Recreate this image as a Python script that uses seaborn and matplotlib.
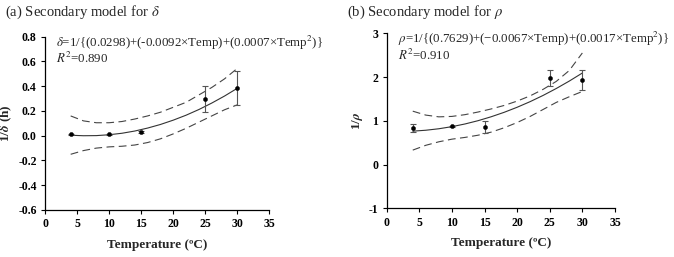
import numpy as np
import pandas as pd
import matplotlib
matplotlib.use("Agg")
import matplotlib.pyplot as plt
import seaborn as sns

# ---- data ----
temps = [4, 10, 15, 25, 30]
delta_obs = [0.013, 0.013, 0.03, 0.295, 0.387]
delta_err = [0.005, 0.005, 0.01, 0.105, 0.14]
rho_obs = [0.84, 0.87, 0.86, 1.97, 1.93]
rho_err = [0.09, 0.02, 0.14, 0.18, 0.23]

curve_t = [4, 6, 8, 10, 12, 14, 16, 18, 20, 22, 24, 26, 28, 30]
delta_fit = [0.004, 0.000, 0.001, 0.008, 0.020, 0.038, 0.062, 0.091, 0.126, 0.166, 0.212, 0.264, 0.321, 0.384]
delta_up = [0.16, 0.12, 0.105, 0.105, 0.115, 0.135, 0.16, 0.19, 0.23, 0.27, 0.33, 0.39, 0.46, 0.545]
delta_lo = [-0.15, -0.12, -0.10, -0.09, -0.085, -0.075, -0.055, -0.025, 0.015, 0.06, 0.11, 0.16, 0.21, 0.25]
rho_fit = [0.763, 0.784, 0.818, 0.866, 0.927, 1.002, 1.091, 1.193, 1.309, 1.438, 1.581, 1.738, 1.908, 2.092]
rho_up = [1.22, 1.13, 1.09, 1.10, 1.14, 1.20, 1.27, 1.35, 1.45, 1.57, 1.72, 1.90, 2.15, 2.55]
rho_lo = [0.33, 0.44, 0.52, 0.58, 0.62, 0.67, 0.74, 0.84, 0.96, 1.10, 1.26, 1.42, 1.55, 1.67]

x_ticks = [0, 5, 10, 15, 20, 25, 30, 35]
delta_yticks = [-0.6, -0.4, -0.2, 0.0, 0.2, 0.4, 0.6, 0.8]
rho_yticks = [-1, 0, 1, 2, 3]

titles = ["(a) Secondary model for $\\delta$", "(b) Secondary model for $\\rho$"]
eqs = ["$\\delta$=1/{(0.0298)+(-0.0092×Temp)+(0.0007×Temp$^2$)}",
       "$\\rho$=1/{(0.7629)+(\u22120.0067×Temp)+(0.0017×Temp$^2$)}"]
r2s = ["$R^2$=0.890", "$R^2$=0.910"]
ylabels = ["1/$\\boldsymbol{\\delta}$ (h)", "1/$\\boldsymbol{\\rho}$"]
xlabel = "Temperature (ºC)"

sns.set_style("ticks")
plt.rcParams["font.family"] = ["Liberation Serif", "DejaVu Serif"]
plt.rcParams["mathtext.fontset"] = "stix"

fig = plt.figure(figsize=(6.74, 2.57), dpi=100)
axA = fig.add_axes([0.0668, 0.183, 0.333, 0.674])
axB = fig.add_axes([0.5737, 0.1895, 0.3387, 0.681])

panels = [
    (axA, delta_obs, delta_err, delta_fit, delta_up, delta_lo, delta_yticks, (-0.6, 0.8)),
    (axB, rho_obs, rho_err, rho_fit, rho_up, rho_lo, rho_yticks, (-1, 3)),
]

for i, (ax, obs, err, fit, up, lo, yt, ylim) in enumerate(panels):
    cdf = pd.DataFrame({"t": curve_t, "fit": fit, "up": up, "lo": lo})
    sns.lineplot(data=cdf, x="t", y="fit", ax=ax, color="#333333", lw=0.8)
    sns.lineplot(data=cdf, x="t", y="up", ax=ax, color="#444444", lw=0.8, dashes=False,
                 linestyle=(0, (7, 4)))
    sns.lineplot(data=cdf, x="t", y="lo", ax=ax, color="#444444", lw=0.8, dashes=False,
                 linestyle=(0, (7, 4)))
    ax.errorbar(temps, obs, yerr=err, fmt="none", ecolor="#555555", elinewidth=0.8,
                capsize=2.2, capthick=0.8, zorder=3)
    pdf = pd.DataFrame({"t": temps, "v": obs})
    sns.scatterplot(data=pdf, x="t", y="v", ax=ax, color="black", s=9, edgecolor="black",
                    linewidth=0.3, zorder=4)

    ax.set_xlim(0, 35)
    ax.set_ylim(*ylim)
    ax.set_xticks(x_ticks)
    ax.set_yticks(yt)
    if i == 0:
        ax.set_yticklabels([f"{v:.1f}" for v in yt])
    else:
        ax.set_yticklabels([f"{v:d}" for v in yt])
    for lab in ax.get_xticklabels() + ax.get_yticklabels():
        lab.set_fontweight("bold")
        lab.set_fontsize(8.5)
    ax.tick_params(length=3, width=0.8, pad=3, colors="black")
    for s in ["left", "bottom"]:
        ax.spines[s].set_linewidth(0.9)
        ax.spines[s].set_color("black")
    sns.despine(ax=ax)
    ax.set_xlabel(xlabel, fontsize=9.5, fontweight="bold", labelpad=6)
    ax.set_ylabel(ylabels[i], fontsize=9.5, fontweight="bold", labelpad=3)
    ax.text(0.05, 0.965, eqs[i], transform=ax.transAxes, fontsize=9.3, va="center", ha="left")
    ax.text(0.05, 0.875, r2s[i], transform=ax.transAxes, fontsize=9.3, va="center", ha="left")

fig.text(5 / 674, 1 - 12 / 257, titles[0], fontsize=10.5, va="center", ha="left")
fig.text(347 / 674, 1 - 12 / 257, titles[1], fontsize=10.5, va="center", ha="left")

fig.savefig("out.png", dpi=100)
